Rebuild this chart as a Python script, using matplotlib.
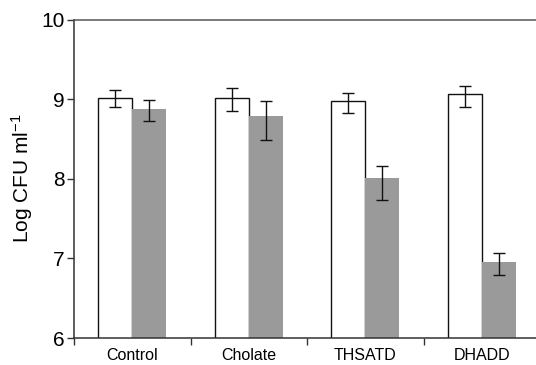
import numpy as np
import matplotlib
matplotlib.use("Agg")
import matplotlib.pyplot as plt

plt.rcParams['font.family'] = ['Liberation Sans', 'DejaVu Sans']
plt.rcParams['mathtext.fontset'] = 'custom'
plt.rcParams['mathtext.rm'] = 'Liberation Sans'
plt.rcParams['mathtext.it'] = 'Liberation Sans'

groups = ['Control', 'Cholate', 'THSATD', 'DHADD']

# open bars
white = [9.02, 9.02, 8.98, 9.06]
white_hi = [9.11, 9.14, 9.08, 9.16]
white_lo = [8.90, 8.85, 8.83, 8.90]

# grey bars
grey = [8.87, 8.79, 8.01, 6.95]
grey_hi = [8.99, 8.98, 8.16, 7.07]
grey_lo = [8.73, 8.49, 7.73, 6.79]

fig = plt.figure(figsize=(5.36, 3.65), dpi=100)
ax = fig.add_axes([74/536, 27/365, 466/536, 318.5/365])

x = np.arange(len(groups)) + 0.5
w = 0.29

werr = [np.array(white) - np.array(white_lo), np.array(white_hi) - np.array(white)]
gerr = [np.array(grey) - np.array(grey_lo), np.array(grey_hi) - np.array(grey)]

ax.bar(x - w/2, white, w, color='white', edgecolor='#111111', linewidth=1.0, zorder=2)
ax.bar(x + w/2, grey, w, color='#9a9a9a', edgecolor='none', zorder=2)
ax.errorbar(x - w/2, white, yerr=werr, fmt='none', ecolor='#111111',
            elinewidth=1.0, capsize=4.3, capthick=1.0, zorder=3)
ax.errorbar(x + w/2, grey, yerr=gerr, fmt='none', ecolor='#111111',
            elinewidth=1.0, capsize=4.3, capthick=1.0, zorder=3)

ax.set_xlim(0, 4)
ax.set_ylim(6, 10)
ax.set_yticks([6, 7, 8, 9, 10])
ax.set_xticks([0, 1, 2, 3])
ax.set_xticklabels([])
ax.set_xticks(x, minor=True)
ax.set_xticklabels(groups, minor=True, fontsize=11.5)
ax.tick_params(axis='x', which='minor', length=0, pad=7)
ax.tick_params(axis='x', which='major', direction='out', length=5, width=1.0, color='#333333')
ax.tick_params(axis='y', direction='out', length=5, width=1.0, color='#333333',
               labelsize=15, pad=2)

ax.spines['right'].set_visible(False)
for s in ['left', 'bottom', 'top']:
    ax.spines[s].set_color('#333333')
    ax.spines[s].set_linewidth(1.1)
ax.spines['top'].set_color('#555555')

ax.set_ylabel('Log CFU ml$^{-1}$', fontsize=15, labelpad=4)

fig.savefig('out.png', dpi=100)
